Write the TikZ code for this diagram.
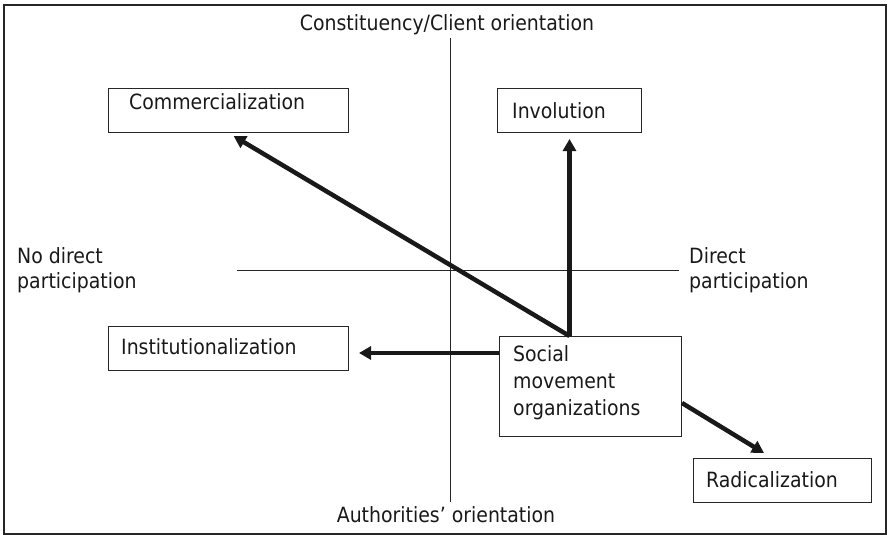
\documentclass[tikz,border=0pt]{standalone}
\usepackage{fontspec}
\setmainfont{DejaVu Sans Condensed}
\usetikzlibrary{arrows.meta}
\begin{document}
\begin{tikzpicture}[x=1pt,y=-1pt,
  box/.style={draw=black!85, line width=1pt, rectangle, inner sep=0pt, anchor=north west},
  lbl/.style={font=\fontsize{21}{27}\selectfont, inner sep=0pt, anchor=west, text=black!90},
  axis/.style={draw=black!85, line width=0.8pt},
  arr/.style={draw=black!90, line width=4.5pt, -{Triangle[length=12pt,width=13pt]}}]
\useasboundingbox (0,0) rectangle (889,535);
\draw[line width=2pt, draw=black!85] (3.5,5.5) rectangle (886,533.5);
% axes
\coordinate (vt) at (450,38);
\coordinate (vb) at (450,502);
\coordinate (hl) at (237,270);
\coordinate (hr) at (679,270);
\draw[axis] (vt) -- (vb);
\draw[axis] (hl) -- (hr);
\node[lbl, anchor=center] (top) at (447,25) {Constituency/Client orientation};
\node[lbl, anchor=center] (bot) at (446,515) {Authorities’ orientation};
\node[lbl, anchor=west, align=left, font=\fontsize{21}{25}\selectfont] (nodir) at (17,270) {No direct\\participation};
\node[lbl, anchor=west, align=left, font=\fontsize{21}{25}\selectfont] (dir) at (689,270) {Direct\\participation};
% boxes
\node[box, minimum width=240pt, minimum height=44pt] (comm) at (108,88) {};
\node[lbl] (commt) at (129,102) {Commercialization};
\node[box, minimum width=144pt, minimum height=44pt] (inv) at (497,88) {};
\node[lbl] (invt) at (512,111) {Involution};
\node[box, minimum width=240pt, minimum height=44pt] (inst) at (108,326) {};
\node[lbl] (instt) at (121,347) {Institutionalization};
\node[box, minimum width=182pt, minimum height=100pt] (smo) at (499,336) {};
\node[lbl, align=left, anchor=north west] (smot) at (513,345) {Social\\movement\\organizations};
\node[box, minimum width=178pt, minimum height=44pt] (rad) at (693,458) {};
\node[lbl] (radt) at (706,480) {Radicalization};
% arrows
\coordinate (s1) at (smo.north -| inv.south);
\coordinate (s2) at (499,353);
\coordinate (s3) at (682,403);
\coordinate (e3) at (764,453);
\draw[arr, shorten >=6pt] (s1) -- (comm.south);
\draw[arr, shorten >=6pt] (s1) -- (inv.south);
\draw[arr, shorten >=10pt] (s2) -- (inst.east |- s2);
\draw[arr] (s3) -- (e3);
\end{tikzpicture}
\end{document}
